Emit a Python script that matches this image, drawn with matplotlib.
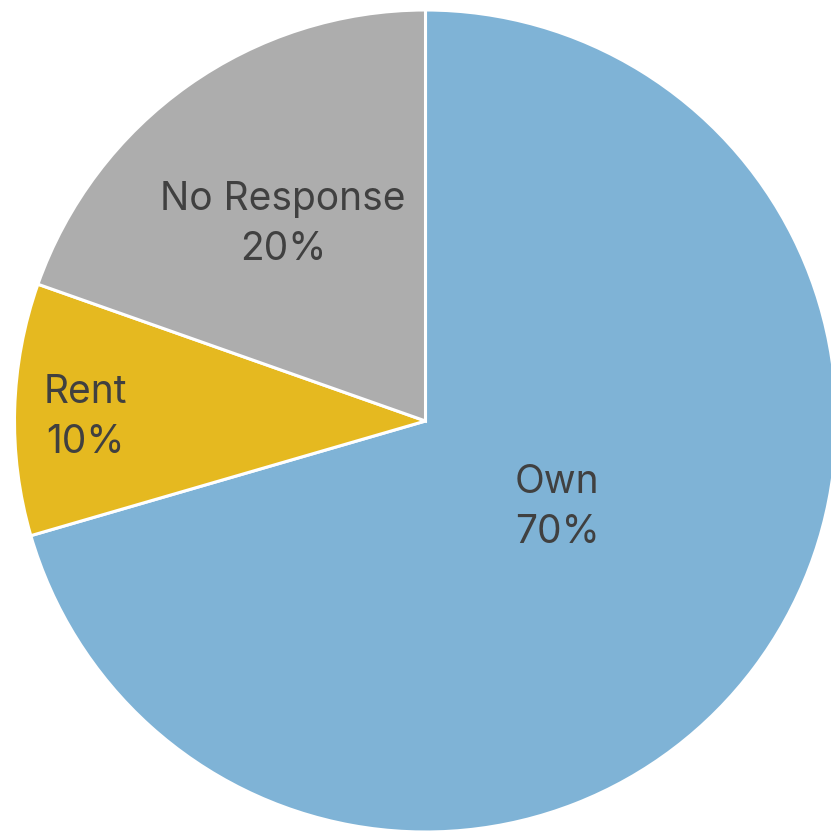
import matplotlib
matplotlib.use("Agg")
import matplotlib.pyplot as plt
import numpy as np

categories = ["Own", "Rent", "No Response"]
values = [70.5, 9.9, 19.6]
colors = ["#7FB3D6", "#E5B920", "#ADADAD"]
label_frac = [0.384, 0.827, 0.591]
label_dang = [3.5, 1.0, 0.6]

W = 831
fig = plt.figure(figsize=(W / 100, W / 100), dpi=100)
ax = fig.add_axes([0, 0, 1, 1])
ax.set_xlim(0, W)
ax.set_ylim(0, W)
ax.set_aspect("equal")
ax.axis("off")

cx, cy, r = 425.5, W - 421, 411
wedges, _ = ax.pie(values, colors=colors, startangle=90, counterclock=False,
                   center=(cx, cy), radius=r,
                   wedgeprops=dict(edgecolor="white", linewidth=2.2))
ax.set_xlim(0, W)
ax.set_ylim(0, W)

total = sum(values)
for w, cat, v, f, da in zip(wedges, categories, values, label_frac, label_dang):
    ang = np.deg2rad((w.theta1 + w.theta2) / 2 + da)
    x = cx + f * r * np.cos(ang)
    y = cy + f * r * np.sin(ang)
    ax.text(x, y, f"{cat}\n{round(100 * v / total)}%", ha="center", va="center",
            fontsize=28, color="#404040", family=["Inter", "DejaVu Sans"],
            linespacing=1.45)

fig.savefig("out.png", dpi=100)
